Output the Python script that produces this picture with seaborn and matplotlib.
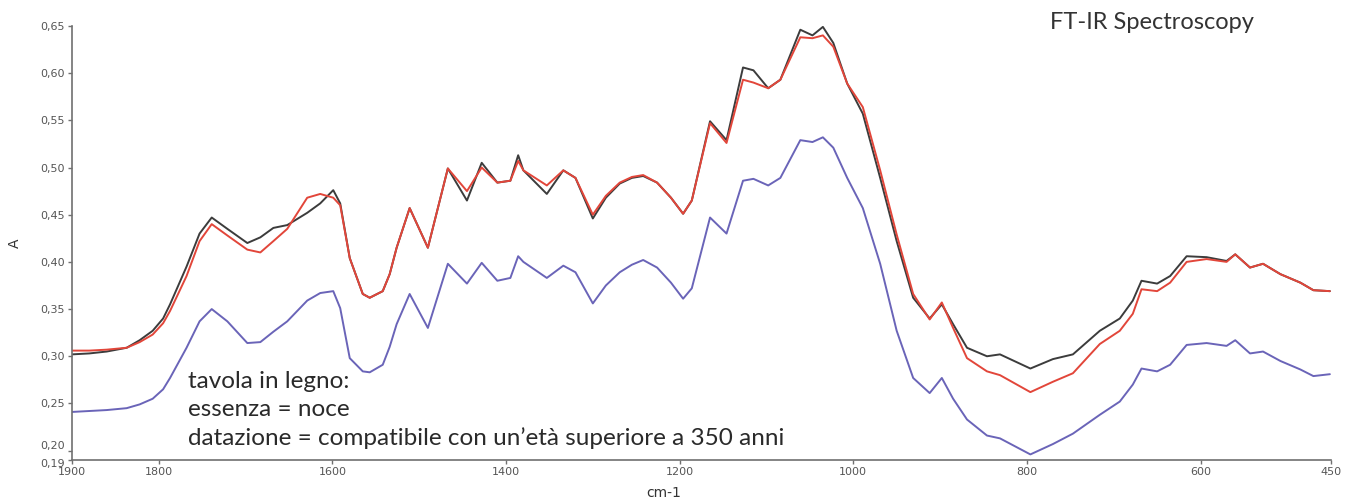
import matplotlib
matplotlib.use("Agg")
import matplotlib.pyplot as plt
from matplotlib.transforms import ScaledTranslation
import seaborn as sns
import pandas as pd

# =========================================================
# Data
# =========================================================
wavenumber = [1900, 1880, 1860, 1837, 1822, 1807, 1795, 1787, 1768, 1753,
              1739, 1721, 1698, 1683, 1668, 1652, 1629, 1614, 1599, 1591,
              1580, 1565, 1557, 1542, 1534, 1526, 1511, 1490, 1467, 1445,
              1428, 1410, 1395, 1386, 1380, 1353, 1334, 1320, 1300, 1285,
              1269, 1255, 1242, 1226, 1210, 1196, 1186, 1165, 1146, 1127,
              1115, 1098, 1084, 1061, 1047, 1035, 1023, 1007, 989, 969,
              950, 931, 912, 898, 885, 869, 846, 831, 796, 770,
              747, 716, 693, 678, 668, 650, 635, 616, 593, 570,
              560, 543, 528, 508, 485, 470, 451]

abs_black = [0.302, 0.303, 0.305, 0.309, 0.317, 0.327, 0.340, 0.355, 0.395, 0.430,
             0.447, 0.435, 0.420, 0.426, 0.436, 0.439, 0.452, 0.462, 0.476, 0.462,
             0.404, 0.366, 0.362, 0.369, 0.387, 0.415, 0.457, 0.415, 0.499, 0.465,
             0.505, 0.484, 0.486, 0.513, 0.497, 0.472, 0.497, 0.489, 0.446, 0.468,
             0.483, 0.489, 0.491, 0.484, 0.468, 0.451, 0.465, 0.549, 0.529, 0.606,
             0.603, 0.584, 0.593, 0.646, 0.640, 0.649, 0.632, 0.589, 0.557, 0.489,
             0.422, 0.362, 0.340, 0.355, 0.334, 0.309, 0.300, 0.302, 0.287, 0.297,
             0.302, 0.327, 0.340, 0.359, 0.380, 0.377, 0.385, 0.406, 0.405, 0.401,
             0.408, 0.394, 0.398, 0.387, 0.378, 0.370, 0.369]

abs_red = [0.306, 0.306, 0.307, 0.309, 0.315, 0.323, 0.335, 0.348, 0.385, 0.422,
           0.440, 0.428, 0.413, 0.410, 0.422, 0.435, 0.468, 0.472, 0.468, 0.460,
           0.404, 0.366, 0.362, 0.369, 0.387, 0.415, 0.457, 0.415, 0.499, 0.475,
           0.500, 0.484, 0.486, 0.507, 0.497, 0.481, 0.497, 0.489, 0.450, 0.470,
           0.484, 0.490, 0.492, 0.484, 0.468, 0.451, 0.465, 0.547, 0.526, 0.593,
           0.590, 0.584, 0.593, 0.638, 0.637, 0.640, 0.628, 0.589, 0.564, 0.497,
           0.429, 0.366, 0.339, 0.357, 0.330, 0.298, 0.284, 0.280, 0.262, 0.273,
           0.282, 0.313, 0.327, 0.345, 0.371, 0.369, 0.378, 0.400, 0.403, 0.400,
           0.408, 0.394, 0.398, 0.387, 0.378, 0.370, 0.369]

abs_blue = [0.241, 0.242, 0.243, 0.245, 0.249, 0.255, 0.265, 0.277, 0.309, 0.337,
            0.350, 0.337, 0.314, 0.315, 0.326, 0.337, 0.359, 0.367, 0.369, 0.351,
            0.298, 0.284, 0.283, 0.291, 0.310, 0.334, 0.366, 0.330, 0.398, 0.377,
            0.399, 0.380, 0.383, 0.406, 0.400, 0.383, 0.396, 0.389, 0.356, 0.375,
            0.389, 0.397, 0.402, 0.394, 0.378, 0.361, 0.372, 0.447, 0.430, 0.486,
            0.488, 0.481, 0.489, 0.529, 0.527, 0.532, 0.521, 0.489, 0.457, 0.398,
            0.327, 0.277, 0.261, 0.277, 0.255, 0.233, 0.216, 0.213, 0.196, 0.207,
            0.218, 0.238, 0.252, 0.270, 0.287, 0.284, 0.291, 0.312, 0.314, 0.311,
            0.317, 0.303, 0.305, 0.295, 0.286, 0.279, 0.281]

series_colors = {"black": "#3c3c3c", "red": "#e2463a", "blue": "#6a64b8"}

x_ticks = [1900, 1800, 1600, 1400, 1200, 1000, 800, 600, 450]
y_ticks = [0.19, 0.20, 0.25, 0.30, 0.35, 0.40, 0.45, 0.50, 0.55, 0.60, 0.65]

note_lines = ["tavola in legno:",
              "essenza = noce",
              "datazione = compatibile con un\u2019et\u00e0 superiore a 350 anni"]

# =========================================================
# Long-form table for seaborn
# =========================================================
frames = []
for name, vals in [("black", abs_black), ("red", abs_red), ("blue", abs_blue)]:
    frames.append(pd.DataFrame({"wn": wavenumber, "A": vals, "sample": name}))
df = pd.concat(frames, ignore_index=True)

# =========================================================
# Plot
# =========================================================
sns.set_style("ticks")
plt.rcParams["font.family"] = ["DejaVu Sans"]

fig = plt.figure(figsize=(13.55, 4.99), dpi=100)
ax = fig.add_axes([0.0531, 0.078, 0.929, 0.870])

sns.lineplot(data=df, x="wn", y="A", hue="sample", palette=series_colors,
             hue_order=["black", "red", "blue"], estimator=None, sort=False,
             linewidth=1.4, legend=False, ax=ax)

ax.set_xlim(1900, 450)
ax.set_ylim(0.19, 0.65)
ax.set_xticks(x_ticks)
ax.set_xticklabels([str(t) for t in x_ticks])
ax.set_yticks(y_ticks)
ax.set_yticklabels([f"{t:.2f}".replace(".", ",") for t in y_ticks])

sns.despine(ax=ax)
for side in ["left", "bottom"]:
    ax.spines[side].set_color("#707070")
    ax.spines[side].set_linewidth(1.2)
ax.tick_params(axis="both", colors="#707070", labelcolor="#555555",
               labelsize=8, length=3, width=1, pad=2)

# the two bottom y labels sit almost on top of each other: nudge them apart
ylabels = ax.get_yticklabels()
ylabels[0].set_transform(ylabels[0].get_transform() + ScaledTranslation(0, -2 / 72, fig.dpi_scale_trans))
ylabels[1].set_transform(ylabels[1].get_transform() + ScaledTranslation(0, 4 / 72, fig.dpi_scale_trans))

ax.set_xlabel("cm-1", fontsize=10, color="#333333")
ax.xaxis.set_label_coords(0.47, -0.06)
ax.set_ylabel("A", fontsize=10, color="#333333")
ax.yaxis.set_label_coords(-0.04, 0.5)

fig.text(0.775, 0.955, "FT-IR Spectroscopy", fontsize=17, family=["Lato", "DejaVu Sans"],
         color="#333333", va="center", ha="left")

for i, line in enumerate(note_lines):
    fig.text(0.139, 1 - (382 + 28 * i) / 499, line, fontsize=17.5,
             family=["Lato", "DejaVu Sans"], color="#2a2a2a", va="center", ha="left")

plt.savefig("out.png", dpi=100)
plt.close()
